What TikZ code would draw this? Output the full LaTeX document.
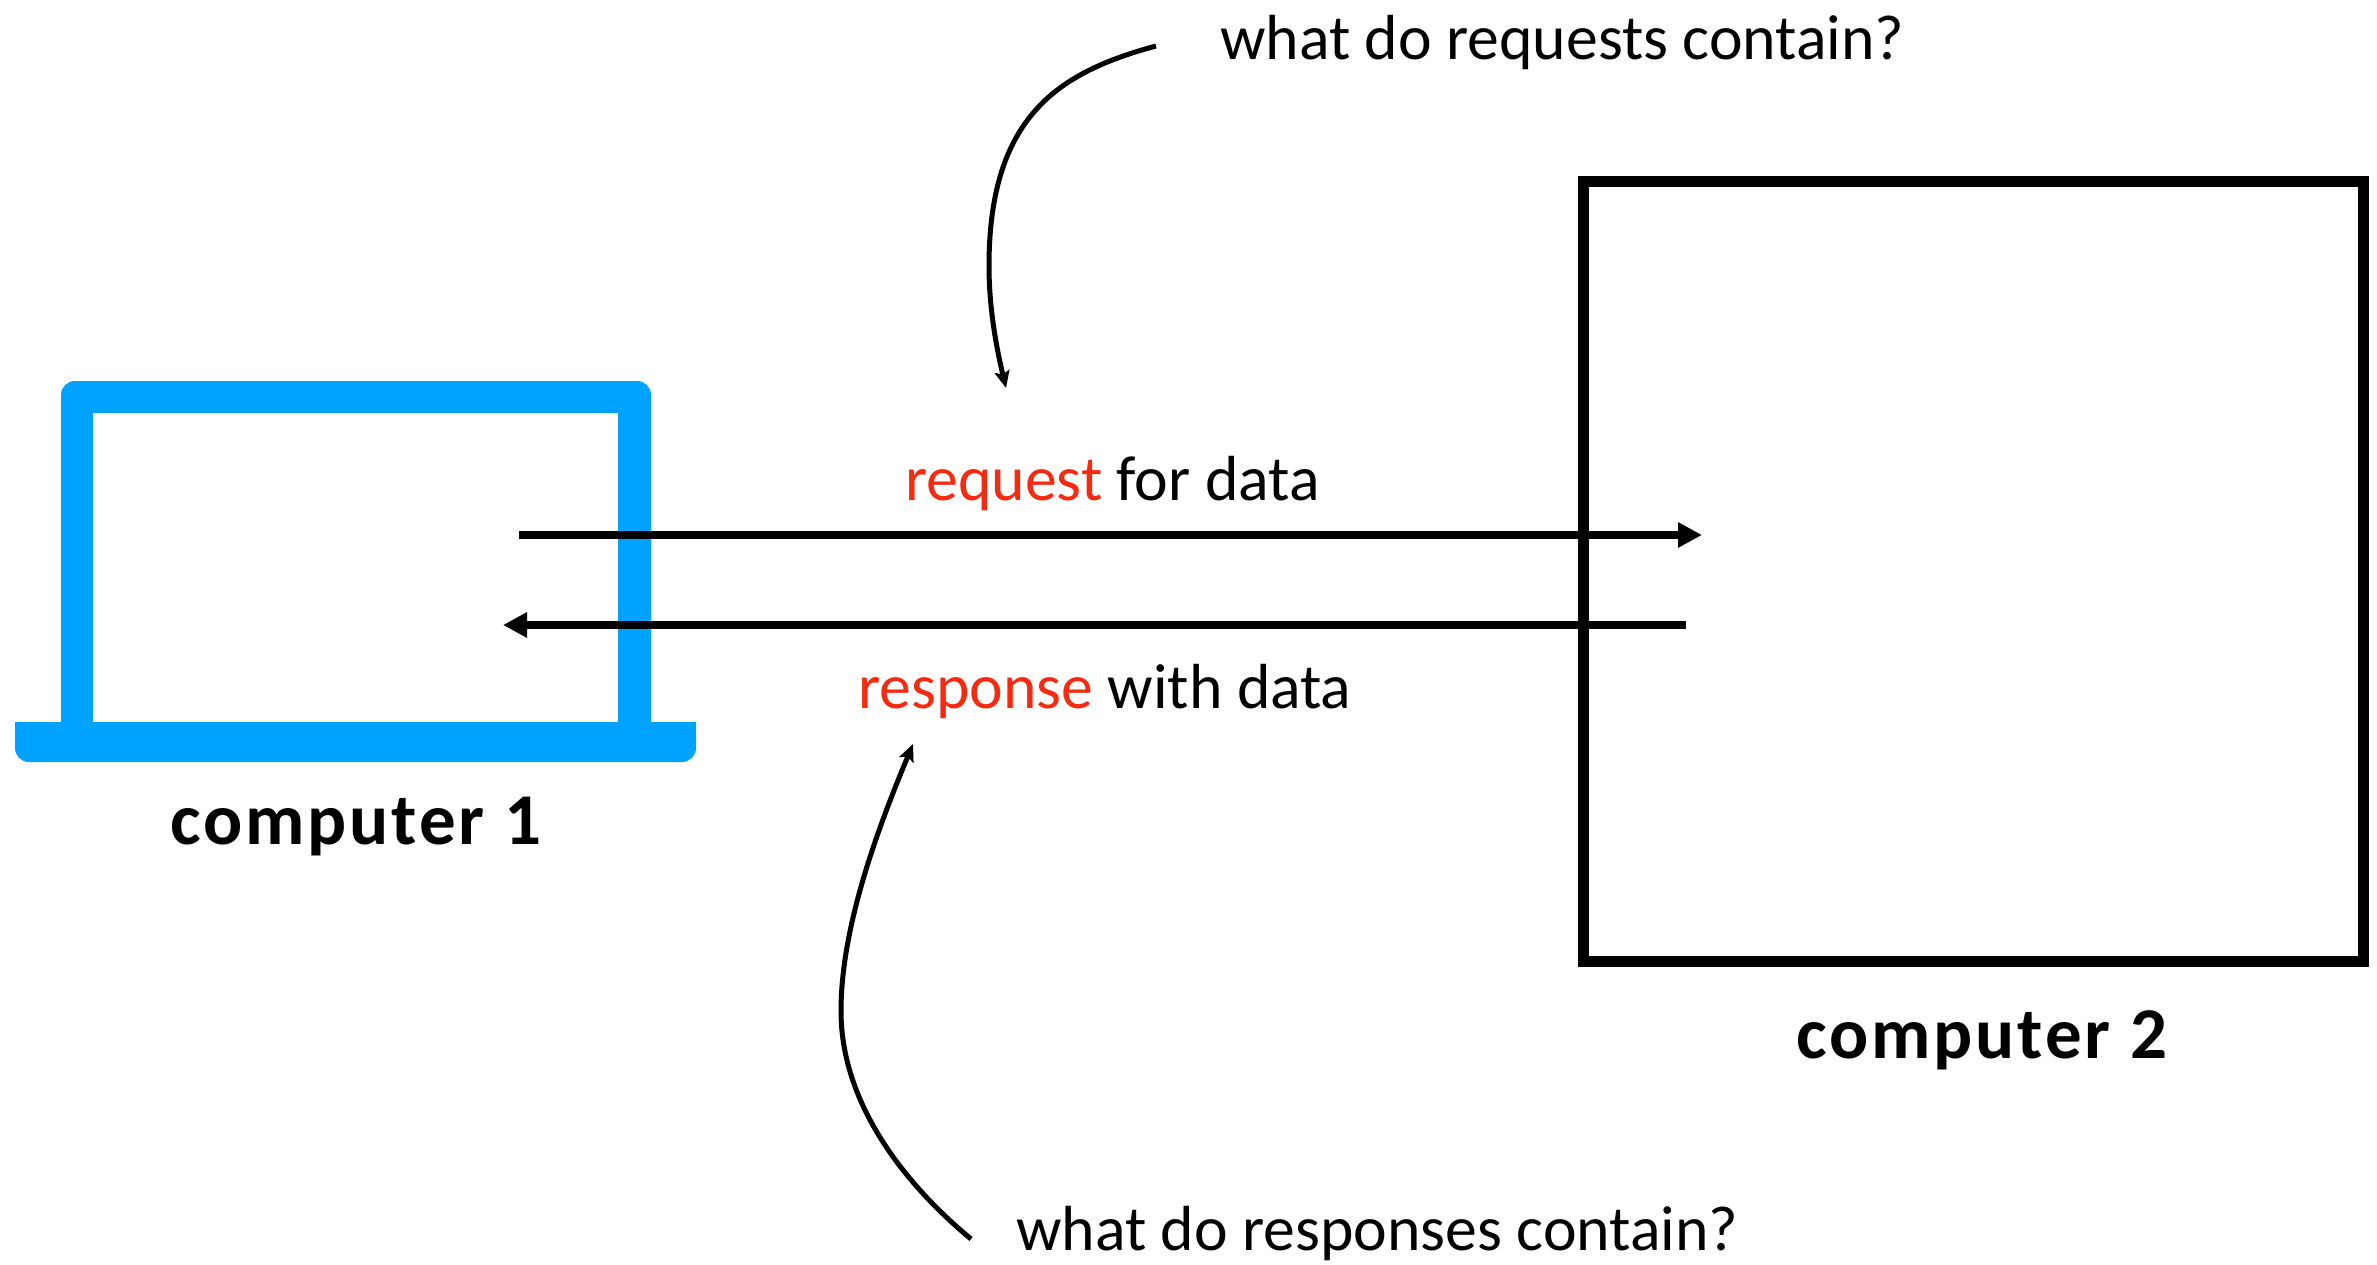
\documentclass[tikz,border=0pt]{standalone}
\usepackage{fontspec}
\setmainfont{Carlito}
\newfontfamily\tagfont[LetterSpace=4]{Carlito}
\usetikzlibrary{arrows.meta}
\definecolor{screenblue}{HTML}{00A2FF}
\definecolor{keyred}{HTML}{F42B10}
\def\ask#1{\fontsize{#1}{#1}\selectfont}
\tikzset{
  say/.style={anchor=base west, inner sep=0pt, font=\ask{63.7pt}},
  tag/.style={anchor=base west, inner sep=0pt, font=\tagfont\ask{73pt}\bfseries},
  flow/.style={line width=8pt, -{Triangle[length=24pt,width=24pt]}},
  hint/.style={line width=5pt, -{Stealth[length=17pt,width=15pt,inset=3pt]}}
}

\begin{document}
\begin{tikzpicture}[x=1pt,y=-1pt]
  \useasboundingbox (0,0) rectangle (2377,1265);
  % laptop
  \fill[screenblue] (61,740) [rounded corners=14pt] -- (61,381) -- (651,381) [sharp corners] -- (651,740) -- cycle;
  \fill[white] (93,413) rectangle (618,722);
  \fill[screenblue, rounded corners=14pt] (15,722) -- (15,762) -- (696,762) -- (696,722);
  \node[tag] (comp1) at (170,844) {computer 1};
  % box
  \node[draw, line width=11pt, minimum size=780pt, inner sep=0pt] (comp2) at (1973,571.5) {};
  \node[tag] (comp2lab) at (1796,1058) {computer 2};
  % the two calls
  \coordinate (reqa) at (519,535);
  \coordinate (reqb) at (1702,535);
  \coordinate (resa) at (1686,625);
  \coordinate (resb) at (503,625);
  \draw[flow] (reqa) -- (reqb);
  \draw[flow] (resa) -- (resb);
  \node[say] (reqlab) at (905,500) {\textcolor{keyred}{request} for data};
  \node[say] (reslab) at (858,708) {\textcolor{keyred}{response} with data};
  % questions
  \node[say] (reqask) at (1220,60) {what do requests contain?};
  \node[say] (resask) at (1016,1250) {what do responses contain?};
  \coordinate (hinta) at (1156,46);
  \coordinate (hintb) at (989,266);
  \coordinate (hintc) at (1006,388);
  \coordinate (hintd) at (971,1239);
  \coordinate (hinte) at (841,1011);
  \coordinate (hintf) at (913,744);
  \draw[hint] (hinta) .. controls (1060,72) and (989,115) .. (hintb) .. controls (989,310) and (997,350) .. (hintc);
  \draw[hint] (hintd) .. controls (900,1180) and (841,1100) .. (hinte) .. controls (841,930) and (875,835) .. (hintf);
\end{tikzpicture}
\end{document}
